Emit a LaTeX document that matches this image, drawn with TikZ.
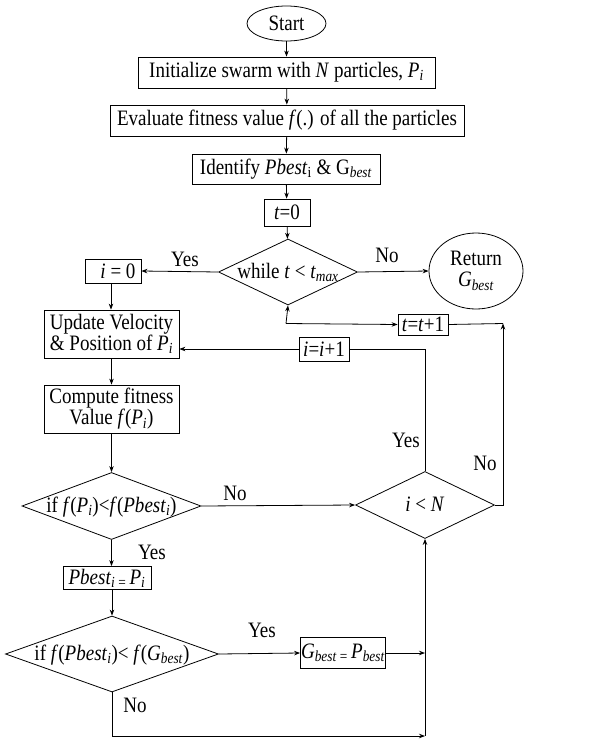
\documentclass[tikz,border=0pt]{standalone}
\usepackage{fontspec}
\setmainfont{Liberation Serif}[FakeStretch=0.865]
\usetikzlibrary{shapes.geometric,arrows.meta}
\newcommand\sbs[1]{\textsubscript{#1}}
\newcommand\ztxt[1]{\smash{\raisebox{-0.6ex}{\makebox[0pt]{#1}}}}
\tikzset{
  box/.style={draw, rectangle, inner sep=0pt, align=center, font=\fontsize{22}{22}\selectfont},
  dia/.style={draw, diamond, inner sep=0pt, font=\fontsize{22}{22}\selectfont},
  ell/.style={draw, ellipse, inner sep=0pt, align=center, font=\fontsize{22}{22}\selectfont},
  lbl/.style={font=\fontsize{22}{22}\selectfont, inner sep=0pt},
  arr/.style={-{Stealth[length=6pt,width=4.5pt]}},
  every path/.style={line width=0.8pt}
}
\begin{document}
\begin{tikzpicture}[x=1pt,y=-1pt]
\useasboundingbox (0,0) rectangle (593,739);
\node[ell, minimum width=79pt, minimum height=35pt] (start) at (286.5,23.5) {Start};
\node[box, minimum width=297pt, minimum height=31pt] (init) at (286.5,72.5) {Initialize swarm with \textit{N} particles, \textit{P}\sbs{\textit{i}}};
\node[box, minimum width=354pt, minimum height=31pt] (eval) at (287,120.5) {Evaluate fitness value \textit{f}(.) of all the particles};
\node[box, minimum width=188pt, minimum height=30pt] (ident) at (286,169) {Identify \textit{Pbest}\sbs{i} \& G\sbs{\textit{best}}};
\node[box, minimum width=46pt, minimum height=27pt] (t0) at (287,212.5) {\textit{t}=0};
\node[dia, minimum width=139pt, minimum height=66pt] (while) at (288,272) {\ztxt{while \textit{t} < \textit{t}\sbs{\textit{max}}}};
\node[ell, minimum width=94pt, minimum height=76pt] (ret) at (476,271) {Return\\[-1pt] \textit{G}\sbs{\textit{best}}};
\node[box, minimum width=56pt, minimum height=24pt] (i0) at (113,271) {\hspace*{10pt}\textit{i} = 0};
\node[box, minimum width=135pt, minimum height=48pt] (upd) at (111.5,334) {Update Velocity\\[-1pt] \& Position of \textit{P}\sbs{\textit{i}}};
\node[box, minimum width=135pt, minimum height=48pt] (comp) at (111.5,409) {Compute fitness\\[-1pt] Value \textit{f}(\textit{P}\sbs{\textit{i}})};
\node[box, minimum width=50pt, minimum height=21pt] (tinc) at (423,324.5) {\textit{t}=\textit{t}+1};
\node[box, minimum width=50pt, minimum height=24pt] (iinc) at (324,349) {\textit{i}=\textit{i}+1};
\node[dia, minimum width=179pt, minimum height=67pt] (if1) at (111.5,506) {\ztxt{if \textit{f}(\textit{P}\sbs{\textit{i}})<\textit{f}(\textit{Pbest}\sbs{\textit{i}})}};
\node[dia, minimum width=139pt, minimum height=67pt] (iN) at (425,505) {\ztxt{\textit{i} < \textit{N}}};
\node[box, minimum width=88pt, minimum height=23pt] (pb) at (107,578) {\textit{Pbest}\sbs{\textit{i} = }\textit{P}\sbs{\textit{i}}};
\node[dia, minimum width=213pt, minimum height=76pt] (if2) at (112,654) {\ztxt{if \textit{f}(\textit{Pbest}\sbs{\textit{i}})< \textit{f}(\textit{G}\sbs{\textit{best}})}};
\node[box, minimum width=85pt, minimum height=31pt] (gb) at (343,653) {\textit{G}\sbs{\textit{best} = }\textit{P}\sbs{\textit{best}}};
\coordinate (c1) at (286,323.5);
\coordinate (c2) at (503,323.5);
\coordinate (c3) at (425,349);
\coordinate (c4) at (425,653);
\coordinate (c5) at (112,736);
\coordinate (c6) at (425,736);
% connectors
\draw[arr] (start) -- (init);
\draw[arr] (init) -- (eval);
\draw[arr] (eval) -- (ident);
\draw[arr] (ident) -- (t0);
\draw[arr] (t0) -- (while);
\draw[arr] (while.east) -- (ret.west);
\draw[arr] (while.west) -- (i0.east);
\draw[arr] (i0.south -| 111,0) -- (upd.north -| 111,0);
\draw[arr] (upd) -- (comp);
\draw[arr] (comp.south) -- (if1.north);
\draw[arr] (if1.east) -- (iN.west);
\draw[arr] (if1.south) -- (if1.south |- pb.north);
\draw[arr] (pb.south -| if2.north) -- (if2.north);
\draw[arr] (if2.east) -- (gb.west);
\draw[arr] (gb.east) -- (c4);
\draw[arr] (if2.south) -- (c5) -- (c6);
\draw[arr] (c6) -- (iN.south);
\draw (iN.north) -- (c3) -- (iinc.east);
\draw[arr] (iinc.west) -- (upd.east |- iinc.west);
\draw[arr] (iN.east) -- (iN.east -| c2) -- (c2);
\draw (tinc.east) -- (c2);
\draw[arr] (c1) -- (tinc.west);
\draw[arr] (c1) -- (while.south);
% labels
\node[lbl] (l1) at (387,255) {No};
\node[lbl] (l2) at (185,259) {Yes};
\node[lbl] (l3) at (406,440) {Yes};
\node[lbl] (l4) at (485,463) {No};
\node[lbl] (l5) at (235,493) {No};
\node[lbl] (l6) at (152,552) {Yes};
\node[lbl] (l7) at (262,630) {Yes};
\node[lbl] (l8) at (135,705) {No};
\end{tikzpicture}
\end{document}
